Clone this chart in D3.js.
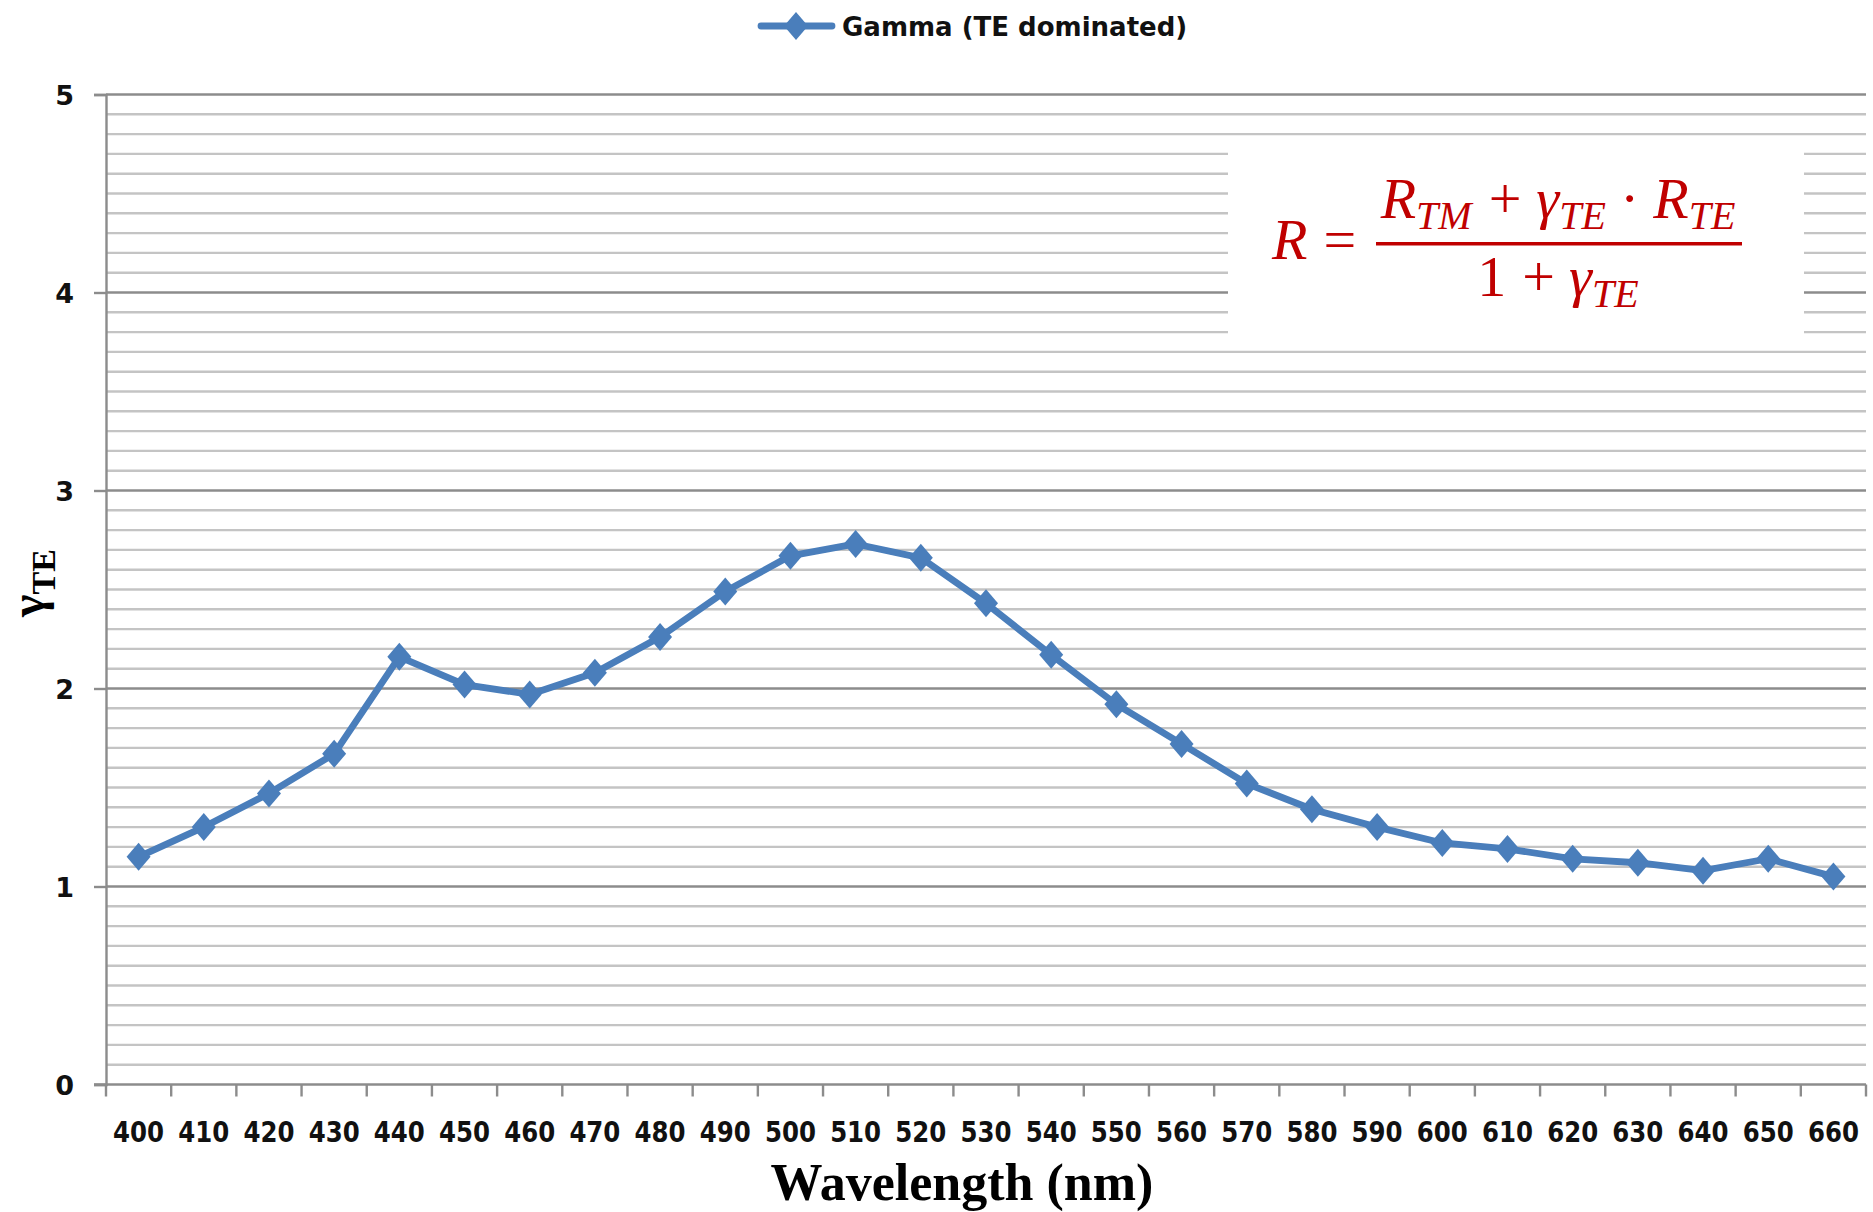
<!DOCTYPE html>
<html>
<head>
<meta charset="utf-8">
<script src="https://cdn.jsdelivr.net/npm/d3@7"></script>
<style>
  html, body { margin: 0; padding: 0; background: #ffffff; }
  svg { display: block; }
</style>
</head>
<body>
<svg id="chart" width="1873" height="1212"></svg>
<script>
// Wavelength categories (nm)
const wavelengths = [400, 410, 420, 430, 440, 450, 460, 470, 480, 490, 500, 510, 520,
                     530, 540, 550, 560, 570, 580, 590, 600, 610, 620, 630, 640, 650, 660];
// Gamma (TE dominated) per wavelength
const gammaTE = [1.15, 1.30, 1.47, 1.67, 2.16, 2.02, 1.97, 2.08, 2.26, 2.49, 2.67, 2.73, 2.66,
                 2.43, 2.17, 1.92, 1.72, 1.52, 1.39, 1.30, 1.22, 1.19, 1.14, 1.12, 1.08, 1.14, 1.05];
const yMajorTicks = [0, 1, 2, 3, 4, 5];
const seriesName = "Gamma (TE dominated)";

const svg = d3.select("#chart");
const plot = { left: 106, right: 1866, top: 94.5, bottom: 1084.5 };

const x = d3.scaleBand().domain(wavelengths).range([plot.left, plot.right]).padding(0);
const y = d3.scaleLinear().domain([0, 5]).range([plot.bottom, plot.top]);

const axisGrey = "#8c8c8c";
const minorGrey = "#c4c4c4";
const blue = "#4a7ebb";
const red = "#c00000";

// minor gridlines every 0.1
const minorVals = d3.range(1, 50).map(i => i / 10).filter(v => Math.abs(v - Math.round(v)) > 1e-6);
svg.append("g").selectAll("line").data(minorVals).join("line")
  .attr("x1", plot.left).attr("x2", plot.right)
  .attr("y1", d => y(d)).attr("y2", d => y(d))
  .attr("stroke", minorGrey).attr("stroke-width", 2.4);

// major gridlines
svg.append("g").selectAll("line").data(yMajorTicks.filter(d => d > 0)).join("line")
  .attr("x1", plot.left).attr("x2", plot.right)
  .attr("y1", d => y(d)).attr("y2", d => y(d))
  .attr("stroke", axisGrey).attr("stroke-width", 2.4);

// y axis
const yAxis = d3.axisLeft(y).tickValues(yMajorTicks).tickSize(12).tickPadding(20).tickFormat(d3.format("d"));
const gy = svg.append("g").attr("transform", `translate(${plot.left},0)`).call(yAxis);
gy.select(".domain").attr("stroke", axisGrey).attr("stroke-width", 2.4);
gy.selectAll(".tick line").attr("stroke", axisGrey).attr("stroke-width", 2.4);
gy.selectAll(".tick text")
  .attr("font-family", "'DejaVu Sans', sans-serif").attr("font-weight", "bold")
  .attr("font-size", 27).attr("fill", "#111").attr("dy", "0.36em");

// x axis: ticks on category boundaries
const boundaries = wavelengths.map(w => x(w)).concat([plot.right]);
const gx = svg.append("g");
gx.append("line").attr("x1", plot.left - 12).attr("x2", plot.right)
  .attr("y1", plot.bottom).attr("y2", plot.bottom)
  .attr("stroke", axisGrey).attr("stroke-width", 2.4);
gx.selectAll("line.tk").data(boundaries).join("line").attr("class", "tk")
  .attr("x1", d => d).attr("x2", d => d)
  .attr("y1", plot.bottom).attr("y2", plot.bottom + 12)
  .attr("stroke", axisGrey).attr("stroke-width", 2.4);
gx.selectAll("text").data(wavelengths).join("text")
  .attr("x", d => x(d) + x.bandwidth() / 2).attr("y", 1142)
  .attr("text-anchor", "middle")
  .attr("font-family", "'DejaVu Sans', sans-serif").attr("font-weight", "bold")
  .attr("font-size", 29).attr("fill", "#111")
  .attr("textLength", 51).attr("lengthAdjust", "spacingAndGlyphs")
  .text(d => d);

// formula panel
const fx = 1228, fy = 145;
svg.append("rect").attr("x", fx).attr("y", fy).attr("width", 576).attr("height", 203).attr("fill", "#ffffff");

const fm = svg.append("g").attr("fill", red).attr("font-family", "'Liberation Serif', 'Times New Roman', serif");
const big = 58, small = 40, sub = 11;
const fracCx = 1558;

// "R ="
const lhs = fm.append("text").attr("x", 1272).attr("y", 259).attr("font-size", big);
lhs.append("tspan").attr("font-style", "italic").text("R");
lhs.append("tspan").attr("dx", 16).text("=");

// numerator: R_TM + γ_TE · R_TE
const num = fm.append("text").attr("x", fracCx).attr("y", 218).attr("text-anchor", "middle").attr("font-size", big);
num.append("tspan").attr("font-style", "italic").text("R");
num.append("tspan").attr("font-style", "italic").attr("font-size", small).attr("dy", sub).text("TM");
num.append("tspan").attr("dy", -sub).attr("dx", 17).text("+");
num.append("tspan").attr("font-style", "italic").attr("dx", 15).text("γ");
num.append("tspan").attr("font-style", "italic").attr("font-size", small).attr("dy", sub).text("TE");
num.append("tspan").attr("dy", -sub).attr("dx", 14).text("·");
num.append("tspan").attr("font-style", "italic").attr("dx", 14).text("R");
num.append("tspan").attr("font-style", "italic").attr("font-size", small).attr("dy", sub).text("TE");

// fraction bar
fm.append("rect").attr("x", 1376).attr("y", 242).attr("width", 366).attr("height", 3.5);

// denominator: 1 + γ_TE
const den = fm.append("text").attr("x", fracCx).attr("y", 296).attr("text-anchor", "middle").attr("font-size", big);
den.append("tspan").text("1");
den.append("tspan").attr("dx", 16).text("+");
den.append("tspan").attr("font-style", "italic").attr("dx", 14).text("γ");
den.append("tspan").attr("font-style", "italic").attr("font-size", small).attr("dy", sub).text("TE");

// series line and markers
const line = d3.line().x((d, i) => x(wavelengths[i]) + x.bandwidth() / 2).y(d => y(d));
svg.append("path").datum(gammaTE).attr("d", line)
  .attr("fill", "none").attr("stroke", blue).attr("stroke-width", 6.8)
  .attr("stroke-linejoin", "round").attr("stroke-linecap", "round");

const diamond = "M0,-14L12,0L0,14L-12,0Z";
svg.append("g").selectAll("path").data(gammaTE).join("path")
  .attr("transform", (d, i) => `translate(${x(wavelengths[i]) + x.bandwidth() / 2},${y(d)})`)
  .attr("d", diamond).attr("fill", blue);

// legend
const lg = svg.append("g");
lg.append("line").attr("x1", 761).attr("x2", 832).attr("y1", 26).attr("y2", 26)
  .attr("stroke", blue).attr("stroke-width", 6.8).attr("stroke-linecap", "round");
lg.append("path").attr("transform", "translate(796,26)").attr("d", diamond).attr("fill", blue);
lg.append("text").attr("x", 842).attr("y", 36)
  .attr("font-family", "'DejaVu Sans', sans-serif").attr("font-weight", "bold")
  .attr("font-size", 26).attr("fill", "#111").text(seriesName);

// axis titles
svg.append("text").attr("x", 962).attr("y", 1200).attr("text-anchor", "middle")
  .attr("font-family", "'Liberation Serif', 'Times New Roman', serif").attr("font-weight", "bold")
  .attr("font-size", 52).attr("fill", "#000").text("Wavelength (nm)");

const yt = svg.append("text").attr("transform", "translate(44,583) rotate(-90)")
  .attr("text-anchor", "middle")
  .attr("font-family", "'Liberation Serif', 'Times New Roman', serif").attr("font-weight", "bold")
  .attr("fill", "#000");
yt.append("tspan").attr("font-size", 48).text("γ");
yt.append("tspan").attr("font-size", 34).attr("dy", 11).text("TE");
</script>
</body>
</html>
